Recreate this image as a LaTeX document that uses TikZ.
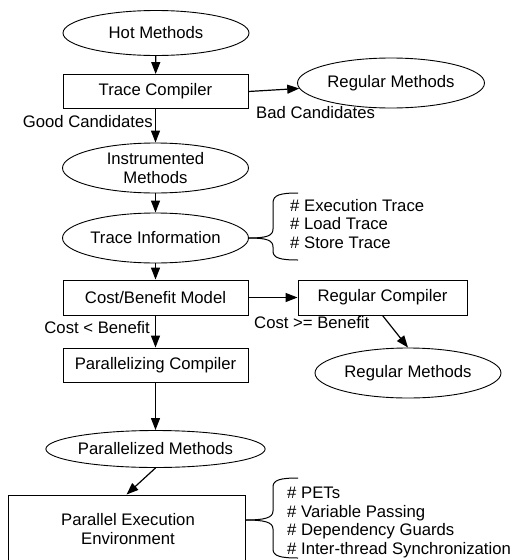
\documentclass[tikz,border=0pt]{standalone}
\usepackage{fontspec}
\setmainfont{Liberation Sans}
\usetikzlibrary{shapes.geometric,arrows.meta}
\begin{document}
\begin{tikzpicture}[x=1pt,y=-1pt,
  every node/.style={font=\fontsize{16.7}{19}\selectfont},
  oval/.style={draw,ellipse,line width=0.9pt,inner sep=0pt,minimum width=186pt,minimum height=48pt,align=center},
  box/.style={draw,rectangle,line width=0.9pt,inner sep=0pt,minimum width=185pt,minimum height=34pt,align=center},
  arr/.style={-{Triangle[length=12pt,width=9pt]},line width=1.2pt},
  brace/.style={line width=1pt},
  lbl/.style={inner sep=0pt},
  lst/.style={inner sep=0pt,align=left,anchor=west,font=\fontsize{16.7}{18.5}\selectfont}]
\useasboundingbox (0,0) rectangle (515,560);
\clip (0,0) rectangle (515,560);
\node[oval,minimum height=45pt] (hot) at (156,33) {Hot Methods};
\node[box] (tc) at (155.5,91.5) {Trace Compiler};
\node[oval,minimum width=187pt,minimum height=50pt] (rm1) at (391,83) {Regular Methods};
\node[oval,minimum height=50pt] (im) at (155.5,168) {Instrumented\\Methods};
\node[oval,minimum height=50pt] (ti) at (155.5,238) {Trace Information};
\node[box,minimum height=35pt] (cb) at (155.5,297.5) {Cost/Benefit Model};
\node[box,minimum width=169pt,minimum height=35pt] (rc) at (382.5,297.5) {Regular Compiler};
\node[box] (pc) at (155.5,365) {Parallelizing Compiler};
\node[oval,minimum height=50pt] (rm2) at (408,373) {Regular Methods};
\node[oval,minimum height=37pt] (pm) at (155.5,449) {Parallelized Methods};
\node[draw,rectangle,line width=0.9pt,minimum width=237pt,minimum height=80pt,inner sep=0pt] (pee) at (126.5,535) {};
\node[align=center,inner sep=0pt] (peet) at (128,529) {Parallel Execution\\Environment};

\draw[arr] (hot) -- (tc);
\draw[arr] (tc.east) -- (rm1);
\draw[arr] (tc) -- (im);
\draw[arr] (im) -- (ti);
\draw[arr] (ti) -- (cb);
\draw[arr] (cb) -- (rc);
\draw[arr] (cb) -- (pc);
\draw[arr] (rc.south) -- (rm2.north);
\draw[arr] (pc) -- (pm);
\draw[arr] (pm.south) -- (pee.north);

\node[lbl,anchor=east] (gc) at (153,122) {Good Candidates};
\node[lbl,anchor=west] (bc) at (256,113) {Bad Candidates};
\node[lbl,anchor=east] (clb) at (150,328) {Cost < Benefit};
\node[lbl,anchor=west] (cgb) at (254,323) {Cost >= Benefit};

% brace 1
\draw[brace] (ti.east) .. controls (266,238) and (273,236) .. (273,229)
  -- (273,203) .. controls (273,195) and (280,193) .. (298,193);
\draw[brace] (ti.east) .. controls (266,238) and (273,240) .. (273,247)
  -- (273,251) .. controls (273,258) and (280,260) .. (298,260);
\node[lst] (l1) at (290,224) {\# Execution Trace\\\# Load Trace\\\# Store Trace};

% brace 2
\coordinate (pe) at (pee.east |- 0,520);
\draw[brace] (pe) .. controls (264,520) and (273,518) .. (273,511)
  -- (273,487) .. controls (273,480) and (280,478) .. (298,478);
\draw[brace] (pe) .. controls (264,520) and (273,522) .. (273,529)
  -- (273,549) .. controls (273,556) and (280,558) .. (298,558);
\node[lst] (l2) at (287,522.5) {\# PETs\\\# Variable Passing\\\# Dependency Guards\\\# Inter-thread Synchronization};
\end{tikzpicture}
\end{document}
